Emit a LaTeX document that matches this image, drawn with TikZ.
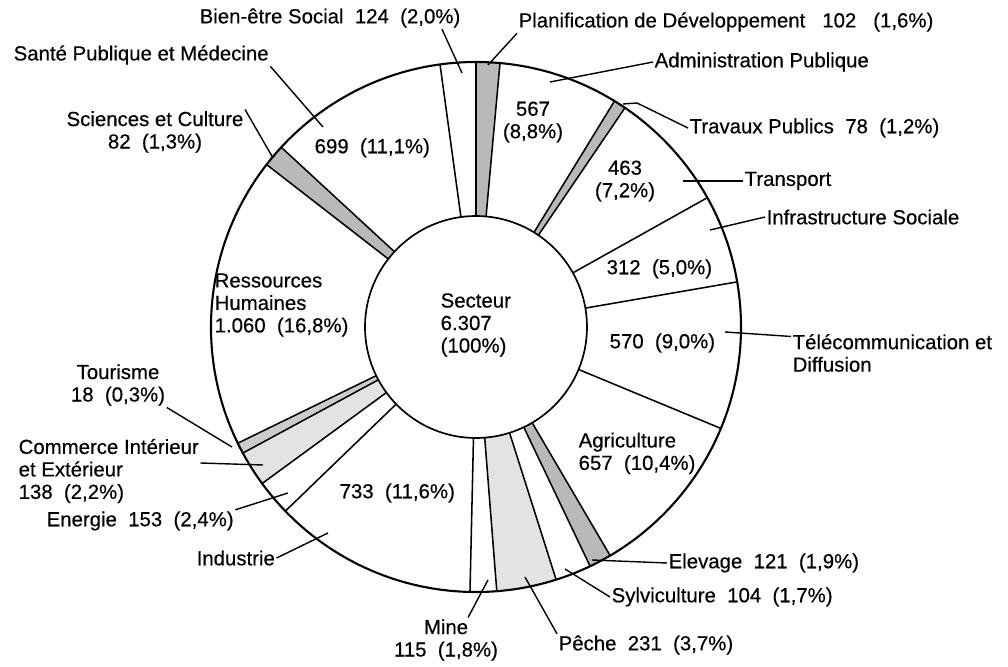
\documentclass[tikz,border=0pt]{standalone}
\usepackage{fontspec}
\setmainfont{Liberation Sans}[FakeBold=0.4]
\colorlet{darkband}{gray!55}
\colorlet{lightband}{gray!22}
\colorlet{midband}{gray!40}

\begin{document}
\begin{tikzpicture}[
    lbl/.style={inner sep=1pt, font=\fontsize{14.5}{16}\selectfont},
    leader/.style={line width=1pt},
  ]
    \useasboundingbox (-11.9,-8.475) rectangle (13.3,8.175);

    % shaded sectors
    \foreach \a/\b/\c in {90/84.8/darkband, 58.5/55.8/darkband, -59.6/-64.5/darkband, -72.4/-85.5/lightband, -143.8/-151.6/lightband, -151.6/-154/midband, 142.2/137.3/darkband}
    \fill[fill=\c] (\a:2.775) -- (\a:6.625) arc[start angle=\a, end angle=\b, radius=6.625] -- (\b:2.775) arc[start angle=\b, end angle=\a, radius=2.775] -- cycle;

    \draw[line width=1.5pt] (0,0) circle[radius=6.625];
    \draw[line width=1.2pt, fill=white] (0,0) circle[radius=2.775];

    \foreach \a in {90,84.8,58.5,55.8,29.2,9.8,-22.5,-59.6,-64.5,-72.4,-85.5,-91.3,-136,-143.8,-151.6,-154,142.2,137.3,97.8}
    \draw[line width=1.1pt] (\a:2.775) -- (\a:6.625);

    \node[lbl, align=left] (secteur) at (-0.925,0.05) [anchor=west] {Secteur\\6.307\\(100\%)};

    % values inside the ring
    \node[lbl, align=center] (v567) at (1.425,5.125) {567\\(8,8\%)};
    \node[lbl, align=center] (v463) at (3.725,3.65) {463\\(7,2\%)};
    \node[lbl, anchor=west] (v312) at (3.225,1.45) {312~~(5,0\%)};
    \node[lbl, anchor=west] (v570) at (3.3,-0.4) {570~~(9,0\%)};
    \node[lbl, anchor=west, align=left] (agri) at (2.525,-3.16) {Agriculture\\657~~(10,4\%)};
    \node[lbl, anchor=west] (v733) at (-3.45,-4.15) {733~~(11,6\%)};
    \node[lbl, anchor=west, align=left] (rh) at (-6.575,0.55) {Ressources\\Humaines\\1.060~~(16,8\%)};
    \node[lbl, anchor=west] (v699) at (-4.075,4.475) {699~~(11,1\%)};

    % outside labels
    \node[lbl, anchor=east] (bien) at (-0.35,7.725) {Bien-être Social~~124~~(2,0\%)};
    \node[lbl, anchor=west] (planif) at (1.025,7.625) {Planification de Développement~~~102~~~(1,6\%)};
    \node[lbl, anchor=west] (admin) at (4.425,6.625) {Administration Publique};
    \node[lbl, anchor=west] (travaux) at (5.3,4.975) {Travaux Publics~~78~~(1,2\%)};
    \node[lbl, anchor=west] (transport) at (6.675,3.65) {Transport};
    \node[lbl, anchor=west] (infra) at (7.225,2.75) {Infrastructure Sociale};
    \node[lbl, anchor=west, align=left] (telecom) at (7.875,-0.65) {Télécommunication et\\Diffusion};
    \node[lbl, anchor=west] (elevage) at (4.775,-5.9) {Elevage~~121~~(1,9\%)};
    \node[lbl, anchor=west] (sylv) at (3.35,-6.75) {Sylviculture~~104~~(1,7\%)};
    \node[lbl, anchor=west] (peche) at (2.025,-7.95) {Pêche~~231~~(3,7\%)};
    \node[lbl, align=center] (mine) at (-0.75,-7.825) {Mine\\115~~(1,8\%)};
    \node[lbl, anchor=west] (industrie) at (-7.025,-5.775) {Industrie};
    \node[lbl, anchor=west] (energie) at (-10.775,-4.85) {Energie~~153~~(2,4\%)};
    \node[lbl, anchor=west, align=left] (commerce) at (-11.475,-3.6) {Commerce Intérieur\\et Extérieur\\138~~(2,2\%)};
    \node[lbl, align=center] (tourisme) at (-8.95,-1.45) {Tourisme\\18~~(0,3\%)};
    \node[lbl, align=center] (sciences) at (-8.025,4.875) {Sciences et Culture\\82~~(1,3\%)};
    \node[lbl, anchor=west] (sante) at (-11.6,6.8) {Santé Publique et Médecine};

    % leader ends
    \coordinate (bienpt) at (-0.35,6.35);
    \coordinate (planifpt) at (0.3,6.55);
    \coordinate (adminpt) at (1.85,6.125);
    \coordinate (tpbend) at (4.025,5.6);
    \coordinate (tppt) at (3.675,5.575);
    \coordinate (transportpt) at (5.175,3.65);
    \coordinate (infrapt) at (5.85,2.425);
    \coordinate (telecompt) at (6.225,-0.125);
    \coordinate (elevpt) at (2.9,-5.825);
    \coordinate (sylvpt) at (2.225,-6.05);
    \coordinate (pechept) at (1.225,-6.25);
    \coordinate (minept) at (0.3,-6.325);
    \coordinate (indpt) at (-3.7,-5.15);
    \coordinate (energiept) at (-4.7,-4.15);
    \coordinate (commercept) at (-5.325,-3.45);
    \coordinate (tourismept) at (-6.1,-3.0);
    \coordinate (sciencespt) at (-5.075,4.225);
    \coordinate (santept) at (-3.825,5.0);

    \draw[leader] ([xshift=-0.5cm]bien.south east) -- (bienpt);
    \draw[leader] (planif.south west) -- (planifpt);
    \draw[leader] (admin.west) -- (adminpt);
    \draw[leader] (travaux.west) -- (tpbend) -- (tppt);
    \draw[leader] (transport.west) -- (transportpt);
    \draw[leader] (infra.west) -- (infrapt);
    \draw[leader] ([yshift=-0.1cm]telecom.north west) -- (telecompt);
    \draw[leader] (elevage.west) -- (elevpt);
    \draw[leader] (sylv.west) -- (sylvpt);
    \draw[leader] (peche.north west) -- (pechept);
    \draw[leader] ([xshift=0.55cm]mine.north) -- (minept);
    \draw[leader] (industrie.east) -- (indpt);
    \draw[leader] (energie.north east) -- (energiept);
    \draw[leader] ([yshift=0.2cm]commerce.east) -- (commercept);
    \draw[leader] (tourisme.south east) -- (tourismept);
    \draw[leader] (sciences.north east) -- (sciencespt);
    \draw[leader] (sante.south east) -- (santept);
\end{tikzpicture}
\end{document}
